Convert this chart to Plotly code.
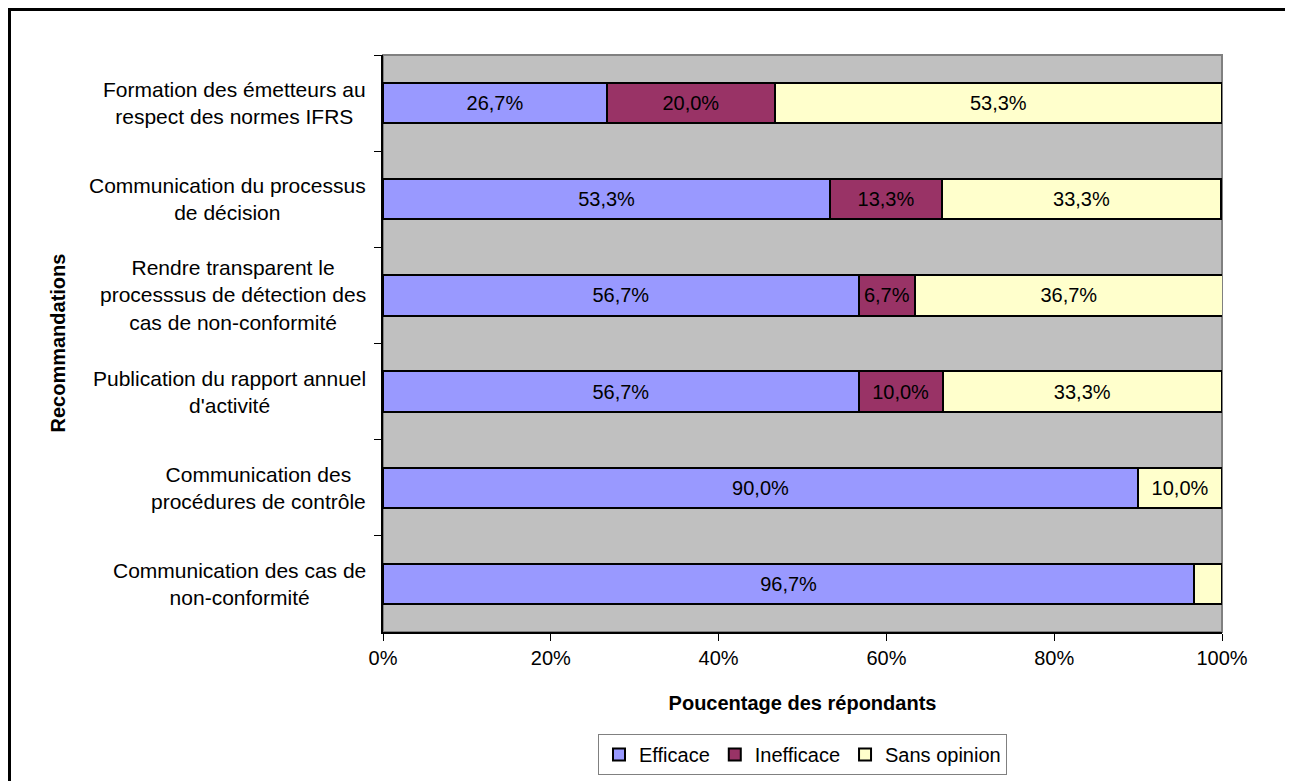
import plotly.graph_objects as go

# Data (top to bottom)
categories = [
    "Formation des émetteurs au<br>respect des normes IFRS",
    "Communication du processus<br>de décision",
    "Rendre transparent le<br>processsus de détection des<br>cas de non-conformité",
    "Publication du rapport annuel<br>d'activité",
    "Communication des<br>procédures de contrôle",
    "Communication des cas de<br>non-conformité",
]
efficace = [26.7, 53.3, 56.7, 56.7, 90.0, 96.7]
inefficace = [20.0, 13.3, 6.7, 10.0, 0.0, 0.0]
sans_opinion = [53.3, 33.3, 36.7, 33.3, 10.0, 3.3]
x_ticks = [0, 20, 40, 60, 80, 100]
x_tick_text = ["0%", "20%", "40%", "60%", "80%", "100%"]

FONT = "Arial, Liberation Sans, sans-serif"
W, H = 1293, 781
OFF = 8  # page body margin
# plot area in screenshot pixels: x 383..1222, y 55..632
L, T = 383 - OFF, 55 - OFF
R, B = W - (1222 - OFF), H - (632 - OFF)
PW, PH = W - L - R, H - T - B


def px_x(p):
    return (p - OFF - L) / PW


def px_y(p):
    return (T + PH - (p - OFF)) / PH


def labels(vals):
    return [(f"{v:.1f}".replace(".", ",") + "%") if v >= 5 else "" for v in vals]


series = [
    ("Efficace", efficace, "#9999FF"),
    ("Inefficace", inefficace, "#993366"),
    ("Sans opinion", sans_opinion, "#FFFFCC"),
]

fig = go.Figure()
for name, vals, color in series:
    fig.add_trace(go.Bar(
        name=name, y=categories, x=vals, orientation="h",
        marker=dict(color=color, line=dict(color="black", width=2)),
        text=labels(vals), textposition="inside", insidetextanchor="middle",
        constraintext="none",
        textfont=dict(family=FONT, size=20, color="black"),
        hoverinfo="skip",
    ))

fig.update_layout(
    width=W, height=H,
    barmode="stack", bargap=0.58,
    paper_bgcolor="white", plot_bgcolor="#C0C0C0",
    margin=dict(l=L, r=R, t=T, b=B),
    font=dict(family=FONT, size=20, color="black"),
    showlegend=True,
    legend=dict(
        orientation="h", x=0.5, xanchor="center", y=px_y(734), yanchor="top",
        bordercolor="#808080", borderwidth=1, bgcolor="white",
        font=dict(family=FONT, size=20), itemwidth=30, traceorder="normal",
    ),
)

fig.update_xaxes(
    range=[0, 100], tickmode="array", tickvals=x_ticks, ticktext=x_tick_text,
    showgrid=False, zeroline=False,
    showline=True, linecolor="black", linewidth=2,
    ticks="outside", ticklen=7, tickcolor="black", tickwidth=1,
    tickfont=dict(family=FONT, size=20),
    title=dict(text="<b>Poucentage des répondants</b>", standoff=28,
               font=dict(family=FONT, size=20)),
)
fig.update_yaxes(
    autorange="reversed", type="category",
    showticklabels=False, showgrid=False,
    showline=True, linecolor="black", linewidth=2,
    ticks="outside", tickson="boundaries", ticklen=7, tickcolor="black", tickwidth=1,
)

# category labels (centered lines, like the original)
for c in categories:
    fig.add_annotation(
        x=0, xref="paper", y=c, yref="y", xanchor="right", xshift=-15,
        text=c, showarrow=False, align="center",
        font=dict(family=FONT, size=21, color="black"),
    )

# y-axis title
fig.add_annotation(
    x=0, xref="paper", y=0.5, yref="paper", xanchor="center", yanchor="middle",
    xshift=57 - 383, text="<b>Recommandations</b>", textangle=-90, showarrow=False,
    font=dict(family=FONT, size=20, color="black"),
)

# plot area outline and outer chart border
fig.add_shape(type="rect", xref="paper", yref="paper", x0=0, x1=1, y0=0, y1=1,
              line=dict(color="#808080", width=2), layer="below")
fig.add_shape(type="rect", xref="paper", yref="paper",
              x0=px_x(OFF + 1.5), x1=px_x(1296), y0=px_y(800), y1=px_y(OFF + 1.5),
              line=dict(color="black", width=3))

fig.write_html("out.html")
